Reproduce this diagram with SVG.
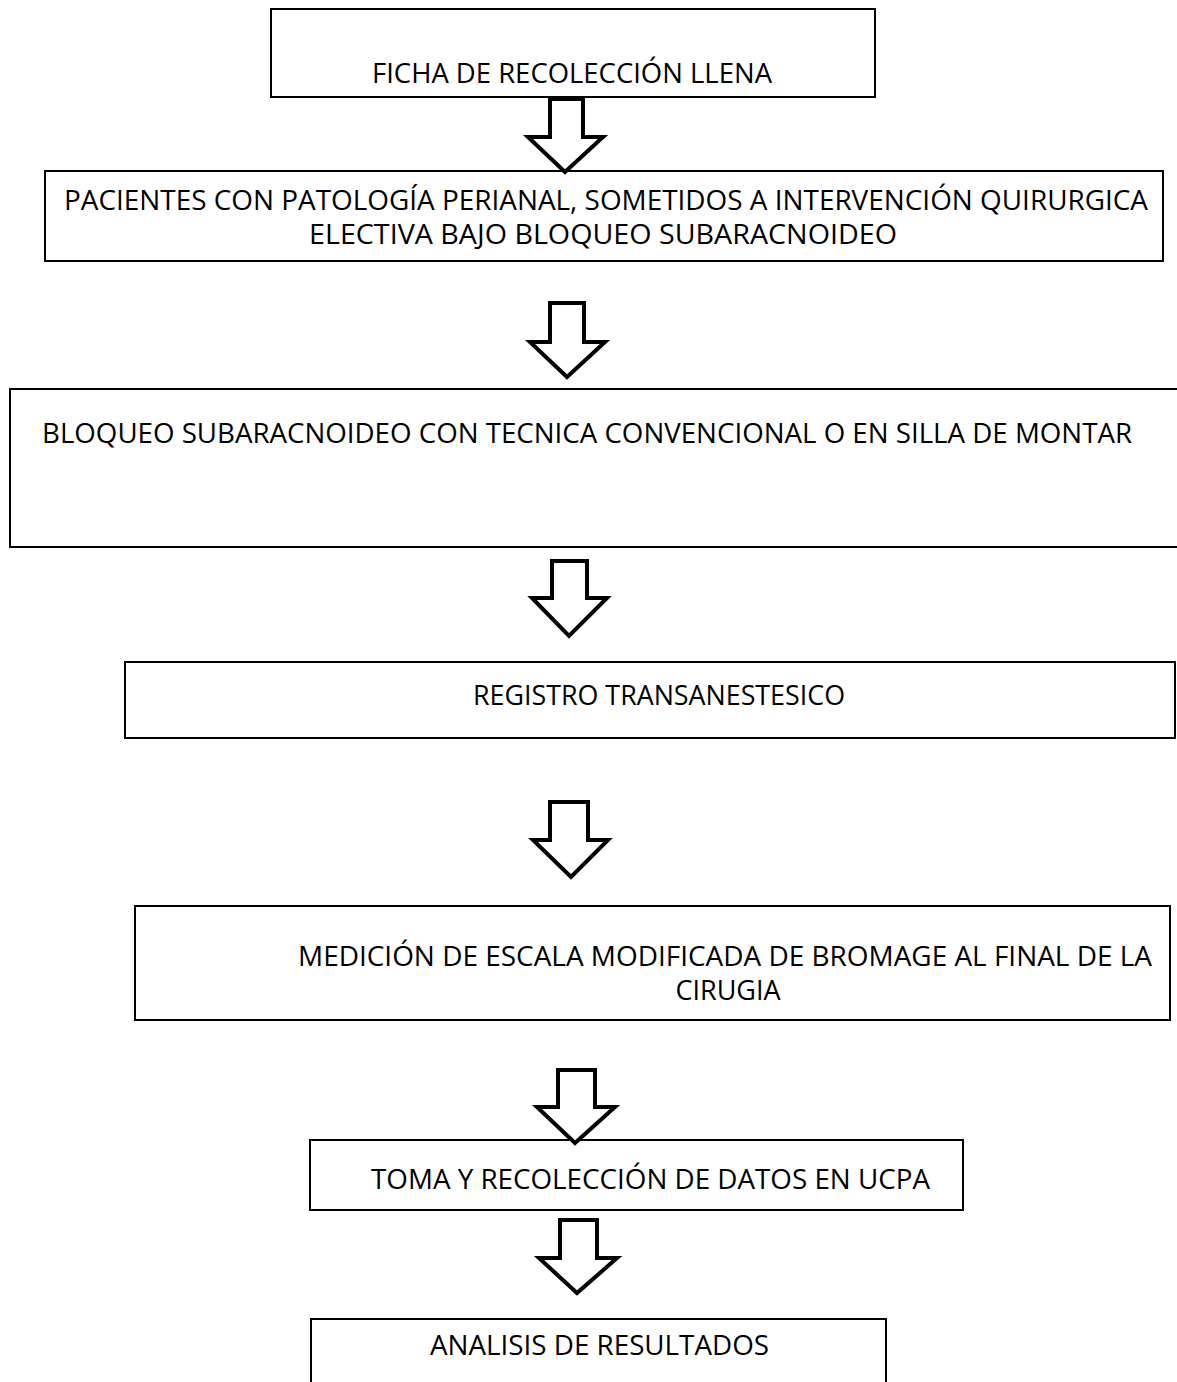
<svg xmlns="http://www.w3.org/2000/svg" width="1177" height="1382" viewBox="0 0 1177 1382">
<style>
.box{fill:#fff;stroke:#000;stroke-width:2}
.arr{fill:#fff;stroke:#000;stroke-width:4;stroke-linejoin:miter}
text{font-family:"Open Sans","Liberation Sans",sans-serif;font-size:27px;fill:#000}
</style>
<rect width="1177" height="1382" fill="#fff"/>
<g id="n1"><rect class="box" x="271" y="9" width="604" height="88"/>
<text x="372" y="83" textLength="400" lengthAdjust="spacingAndGlyphs">FICHA DE RECOLECCIÓN LLENA</text></g>
<g id="n2"><rect class="box" x="45" y="171" width="1118" height="90"/>
<text x="64" y="210" textLength="1084" lengthAdjust="spacingAndGlyphs">PACIENTES CON PATOLOGÍA PERIANAL, SOMETIDOS A INTERVENCIÓN QUIRURGICA</text>
<text x="309" y="244" textLength="588" lengthAdjust="spacingAndGlyphs">ELECTIVA BAJO BLOQUEO SUBARACNOIDEO</text></g>
<g id="n3"><rect class="box" x="10" y="389" width="1180" height="158"/>
<text x="42" y="443" textLength="1090" lengthAdjust="spacingAndGlyphs">BLOQUEO SUBARACNOIDEO CON TECNICA CONVENCIONAL O EN SILLA DE MONTAR</text></g>
<g id="n4"><rect class="box" x="125" y="662" width="1050" height="76"/>
<text x="473" y="705" textLength="372" lengthAdjust="spacingAndGlyphs">REGISTRO TRANSANESTESICO</text></g>
<g id="n5"><rect class="box" x="135" y="906" width="1035" height="114"/>
<text x="298" y="966" textLength="854" lengthAdjust="spacingAndGlyphs">MEDICIÓN DE ESCALA MODIFICADA DE BROMAGE AL FINAL DE LA</text>
<text x="728" y="1000" text-anchor="middle">CIRUGIA</text></g>
<g id="n6"><rect class="box" x="310" y="1140" width="653" height="70"/>
<text x="371" y="1189" textLength="559" lengthAdjust="spacingAndGlyphs">TOMA Y RECOLECCIÓN DE DATOS EN UCPA</text></g>
<g id="n7"><rect class="box" x="311" y="1319" width="575" height="80"/>
<text x="430" y="1355" textLength="339" lengthAdjust="spacingAndGlyphs">ANALISIS DE RESULTADOS</text></g>
<g id="connectors">
<polygon class="arr" points="550,99 583,99 583,137 603,137 565,172 528,137 550,137"/>
<polygon class="arr" points="550,303 584,303 584,342 605,342 567,377 530,342 550,342"/>
<polygon class="arr" points="552,561 587,561 587,598 607,598 569,636 532,598 552,598"/>
<polygon class="arr" points="550,802 588,802 588,840 608,840 571,877 533,840 550,840"/>
<polygon class="arr" points="558,1070 595,1070 595,1107 615,1107 575,1143 537,1107 558,1107"/>
<polygon class="arr" points="560,1220 597,1220 597,1258 617,1258 577,1293 539,1258 560,1258"/>
</g>
</svg>
